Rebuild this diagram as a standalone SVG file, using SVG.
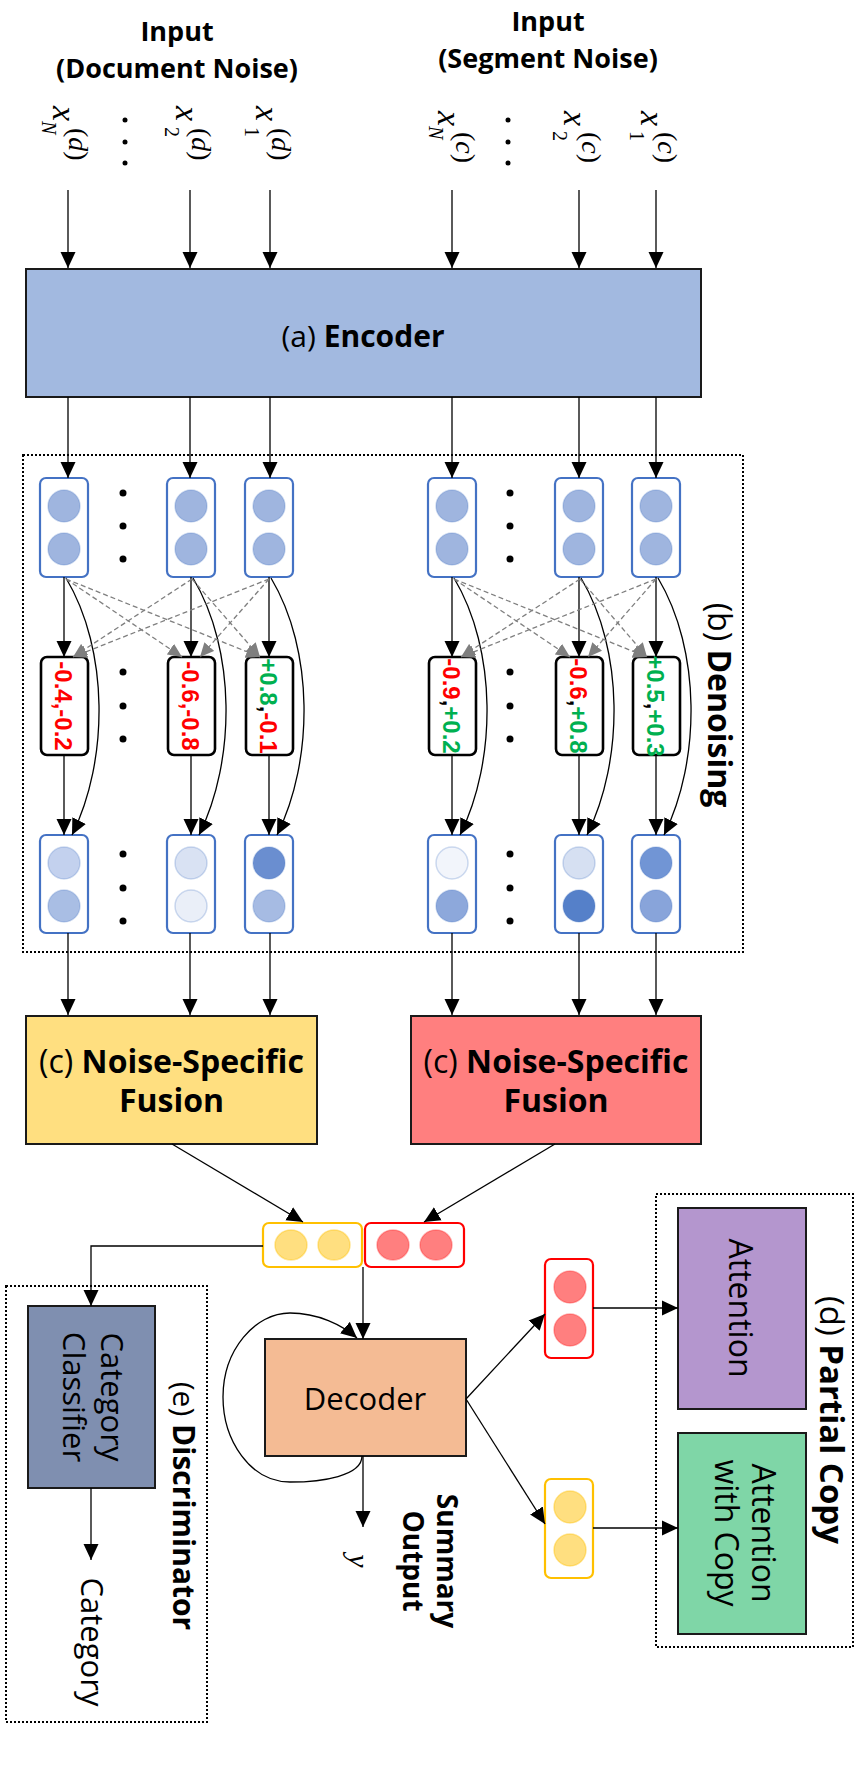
<svg xmlns="http://www.w3.org/2000/svg" width="857" height="1773" viewBox="0 0 857 1773">
<defs>
<style>
.s{font-family:"Open Sans","Liberation Sans",sans-serif;fill:#000}
.b{font-weight:bold}
.n{font-family:"Liberation Sans",Arial,sans-serif;font-weight:bold;font-size:24px}
.m{font-family:"Liberation Serif","DejaVu Serif",serif;font-style:italic;fill:#000}
.mu{font-family:"Liberation Serif","DejaVu Serif",serif;fill:#000}
.red{fill:#FF0000}
.grn{fill:#00B050}
.blk{fill:#000}
.ln{stroke:#000;stroke-width:1.3;fill:none}
.ar{marker-end:url(#arr)}
.ds{stroke:#7F7F7F;stroke-width:1.3;fill:none;stroke-dasharray:5 3;marker-end:url(#arg)}
.dot{fill:none;stroke:#000;stroke-width:2;stroke-dasharray:2 2}
.vb{fill:#fff;stroke:#4472C4;stroke-width:2.2}
.sb{fill:#fff;stroke:#000;stroke-width:2.6}
.bx{stroke:#1a1a1a;stroke-width:2}
.c{stroke:#4472C4;stroke-opacity:.25;stroke-width:1.5}
.cy{fill:#FFDF80;stroke:#FFC000;stroke-opacity:.4;stroke-width:1.5}
.cr{fill:#FF7F7F;stroke:#FF2020;stroke-opacity:.35;stroke-width:1.5}
</style>
<marker id="arr" viewBox="0 0 16 16" refX="16" refY="8" markerWidth="16" markerHeight="16" markerUnits="userSpaceOnUse" orient="auto"><path d="M0,0.5 L16,8 L0,15.5 z" fill="#000"/></marker>
<marker id="arg" viewBox="0 0 14 14" refX="14" refY="7" markerWidth="14" markerHeight="14" markerUnits="userSpaceOnUse" orient="auto"><path d="M0,0.5 L14,7 L0,13.5 z" fill="#7F7F7F"/></marker>
</defs>
<rect width="857" height="1773" fill="#fff"/>

<!-- headings -->
<g id="input-document">
<text class="s b" x="177" y="41" font-size="27" text-anchor="middle">Input</text>
<text class="s b" x="177" y="78" font-size="27" text-anchor="middle">(Document Noise)</text>
</g>
<g id="input-segment">
<text class="s b" x="548" y="31" font-size="27" text-anchor="middle">Input</text>
<text class="s b" x="548" y="68" font-size="27" text-anchor="middle">(Segment Noise)</text>
</g>

<!-- input token labels (rotated) -->
<g id="x-labels">
<g id="xdN"><text class="m" font-size="34" transform="translate(53,106) rotate(90)">x</text><text class="m" font-size="20" transform="translate(42,121) rotate(90)">N</text><text class="mu" font-size="28" transform="translate(69,128) rotate(90)">(<tspan class="m">d</tspan>)</text></g>
<g id="xd2"><text class="m" font-size="34" transform="translate(176,106) rotate(90)">x</text><text class="mu" font-size="20" transform="translate(165,127) rotate(90)">2</text><text class="mu" font-size="28" transform="translate(192,128) rotate(90)">(<tspan class="m">d</tspan>)</text></g>
<g id="xd1"><text class="m" font-size="34" transform="translate(256,106) rotate(90)">x</text><text class="mu" font-size="20" transform="translate(245,127) rotate(90)">1</text><text class="mu" font-size="28" transform="translate(272,128) rotate(90)">(<tspan class="m">d</tspan>)</text></g>
<g id="xcN"><text class="m" font-size="34" transform="translate(438,111) rotate(90)">x</text><text class="m" font-size="20" transform="translate(429,126) rotate(90)">N</text><text class="mu" font-size="28" transform="translate(456,132) rotate(90)">(<tspan class="m">c</tspan>)</text></g>
<g id="xc2"><text class="m" font-size="34" transform="translate(564,111) rotate(90)">x</text><text class="mu" font-size="20" transform="translate(553,131) rotate(90)">2</text><text class="mu" font-size="28" transform="translate(582,132) rotate(90)">(<tspan class="m">c</tspan>)</text></g>
<g id="xc1"><text class="m" font-size="34" transform="translate(641,111) rotate(90)">x</text><text class="mu" font-size="20" transform="translate(630,131) rotate(90)">1</text><text class="mu" font-size="28" transform="translate(658,132) rotate(90)">(<tspan class="m">c</tspan>)</text></g>
<g id="x-dots">
<circle cx="125" cy="120" r="2.5"/><circle cx="125" cy="142" r="2.5"/><circle cx="125" cy="163" r="2.5"/>
<circle cx="508" cy="120" r="2.5"/><circle cx="508" cy="142" r="2.5"/><circle cx="508" cy="163" r="2.5"/>
</g>
</g>

<!-- encoder -->
<g id="encoder">
<rect class="bx" x="26" y="269" width="675" height="128" fill="#A2B9E0"/>
<text class="s" x="363" y="347" font-size="30" text-anchor="middle">(a) <tspan class="b">Encoder</tspan></text>
</g>

<!-- denoising -->
<g id="denoising">
<rect class="dot" x="23" y="455" width="720" height="497"/>
<text class="s" font-size="32" text-anchor="middle" transform="translate(708,705) rotate(90)">(b) <tspan class="b">Denoising</tspan></text>
</g>

<g id="hidden-top">
<g id="h1"><rect class="vb" x="40" y="478" width="48" height="99" rx="6"/><circle class="c" cx="64" cy="506" r="16" fill="#9FB5DF"/><circle class="c" cx="64" cy="549" r="16" fill="#9FB5DF"/></g>
<g id="h2"><rect class="vb" x="167" y="478" width="48" height="99" rx="6"/><circle class="c" cx="191" cy="506" r="16" fill="#9FB5DF"/><circle class="c" cx="191" cy="549" r="16" fill="#9FB5DF"/></g>
<g id="h3"><rect class="vb" x="245" y="478" width="48" height="99" rx="6"/><circle class="c" cx="269" cy="506" r="16" fill="#9FB5DF"/><circle class="c" cx="269" cy="549" r="16" fill="#9FB5DF"/></g>
<g id="h4"><rect class="vb" x="428" y="478" width="48" height="99" rx="6"/><circle class="c" cx="452" cy="506" r="16" fill="#9FB5DF"/><circle class="c" cx="452" cy="549" r="16" fill="#9FB5DF"/></g>
<g id="h5"><rect class="vb" x="555" y="478" width="48" height="99" rx="6"/><circle class="c" cx="579" cy="506" r="16" fill="#9FB5DF"/><circle class="c" cx="579" cy="549" r="16" fill="#9FB5DF"/></g>
<g id="h6"><rect class="vb" x="632" y="478" width="48" height="99" rx="6"/><circle class="c" cx="656" cy="506" r="16" fill="#9FB5DF"/><circle class="c" cx="656" cy="549" r="16" fill="#9FB5DF"/></g>
</g>

<g id="scores">
<g id="s1"><rect class="sb" x="41" y="657" width="47" height="98" rx="6"/><text class="n red" text-anchor="middle" transform="translate(55,706) rotate(90)">-0.4,-0.2</text></g>
<g id="s2"><rect class="sb" x="168" y="657" width="47" height="98" rx="6"/><text class="n red" text-anchor="middle" transform="translate(182,706) rotate(90)">-0.6,-0.8</text></g>
<g id="s3"><rect class="sb" x="246" y="657" width="47" height="98" rx="6"/><text class="n" text-anchor="middle" transform="translate(260,706) rotate(90)"><tspan class="grn">+0.8</tspan><tspan class="blk">,</tspan><tspan class="red">-0.1</tspan></text></g>
<g id="s4"><rect class="sb" x="429" y="657" width="47" height="98" rx="6"/><text class="n" text-anchor="middle" transform="translate(443,706) rotate(90)"><tspan class="red">-0.9</tspan><tspan class="blk">,</tspan><tspan class="grn">+0.2</tspan></text></g>
<g id="s5"><rect class="sb" x="556" y="657" width="47" height="98" rx="6"/><text class="n" text-anchor="middle" transform="translate(570,706) rotate(90)"><tspan class="red">-0.6</tspan><tspan class="blk">,</tspan><tspan class="grn">+0.8</tspan></text></g>
<g id="s6"><rect class="sb" x="633" y="657" width="47" height="98" rx="6"/><text class="n" text-anchor="middle" transform="translate(647,706) rotate(90)"><tspan class="grn">+0.5</tspan><tspan class="blk">,</tspan><tspan class="grn">+0.3</tspan></text></g>
</g>

<g id="hidden-bottom">
<g id="d1"><rect class="vb" x="40" y="835" width="48" height="98" rx="6"/><circle class="c" cx="64" cy="863" r="16" fill="#C3D1EE"/><circle class="c" cx="64" cy="906" r="16" fill="#A9BEE4"/></g>
<g id="d2"><rect class="vb" x="167" y="835" width="48" height="98" rx="6"/><circle class="c" cx="191" cy="863" r="16" fill="#D9E2F3"/><circle class="c" cx="191" cy="906" r="16" fill="#EAEFF8"/></g>
<g id="d3"><rect class="vb" x="245" y="835" width="48" height="98" rx="6"/><circle class="c" cx="269" cy="863" r="16" fill="#6A8ED0"/><circle class="c" cx="269" cy="906" r="16" fill="#A6BBE3"/></g>
<g id="d4"><rect class="vb" x="428" y="835" width="48" height="98" rx="6"/><circle class="c" cx="452" cy="863" r="16" fill="#F2F5FB"/><circle class="c" cx="452" cy="906" r="16" fill="#8DA8DB"/></g>
<g id="d5"><rect class="vb" x="555" y="835" width="48" height="98" rx="6"/><circle class="c" cx="579" cy="863" r="16" fill="#D6E0F2"/><circle class="c" cx="579" cy="906" r="16" fill="#5580C9"/></g>
<g id="d6"><rect class="vb" x="632" y="835" width="48" height="98" rx="6"/><circle class="c" cx="656" cy="863" r="16" fill="#7195D5"/><circle class="c" cx="656" cy="906" r="16" fill="#88A4DA"/></g>
</g>

<g id="denoise-dots">
<circle cx="123" cy="493" r="3.5"/><circle cx="123" cy="526" r="3.5"/><circle cx="123" cy="559" r="3.5"/>
<circle cx="123" cy="672" r="3.5"/><circle cx="123" cy="706" r="3.5"/><circle cx="123" cy="739" r="3.5"/>
<circle cx="123" cy="854" r="3.5"/><circle cx="123" cy="888" r="3.5"/><circle cx="123" cy="921" r="3.5"/>
<circle cx="510" cy="493" r="3.5"/><circle cx="510" cy="526" r="3.5"/><circle cx="510" cy="559" r="3.5"/>
<circle cx="510" cy="672" r="3.5"/><circle cx="510" cy="706" r="3.5"/><circle cx="510" cy="739" r="3.5"/>
<circle cx="510" cy="854" r="3.5"/><circle cx="510" cy="888" r="3.5"/><circle cx="510" cy="921" r="3.5"/>
</g>

<!-- fusion -->
<g id="fusion-document">
<rect class="bx" x="26" y="1016" width="291" height="128" fill="#FFDF80"/>
<text class="s" x="171.5" y="1073" font-size="32" text-anchor="middle">(c) <tspan class="b">Noise-Specific</tspan></text>
<text class="s b" x="171.5" y="1112" font-size="32" text-anchor="middle">Fusion</text>
</g>
<g id="fusion-segment">
<rect class="bx" x="411" y="1016" width="290" height="128" fill="#FF7F7F"/>
<text class="s" x="556" y="1073" font-size="32" text-anchor="middle">(c) <tspan class="b">Noise-Specific</tspan></text>
<text class="s b" x="556" y="1112" font-size="32" text-anchor="middle">Fusion</text>
</g>

<g id="fused-vector">
<rect x="263" y="1223" width="99" height="44" rx="6" fill="#fff" stroke="#FFC000" stroke-width="2.2"/>
<ellipse class="cy" cx="291" cy="1245" rx="16" ry="15"/><ellipse class="cy" cx="334" cy="1245" rx="16" ry="15"/>
<rect x="365" y="1223" width="99" height="44" rx="6" fill="#fff" stroke="#FF0000" stroke-width="2.2"/>
<ellipse class="cr" cx="393" cy="1245" rx="16" ry="15"/><ellipse class="cr" cx="436" cy="1245" rx="16" ry="15"/>
</g>

<g id="decoder">
<rect class="bx" x="265" y="1339" width="201" height="117" fill="#F4BB94"/>
<text class="s" x="365" y="1410" font-size="31" text-anchor="middle">Decoder</text>
</g>

<g id="summary-output">
<text class="m" font-size="30" text-anchor="middle" transform="translate(349,1561) rotate(90)">y</text>
<text class="s b" font-size="28" text-anchor="middle" transform="translate(437,1561) rotate(90)">Summary</text>
<text class="s b" font-size="28" text-anchor="middle" transform="translate(403,1561) rotate(90)">Output</text>
</g>

<g id="discriminator">
<rect class="dot" x="6" y="1286" width="201" height="436"/>
<text class="s" font-size="30" text-anchor="middle" transform="translate(173,1506) rotate(90)">(e) <tspan class="b">Discriminator</tspan></text>
</g>
<g id="category-classifier">
<rect class="bx" x="28" y="1306" width="127" height="182" fill="#7F8FB0"/>
<text class="s" font-size="31" text-anchor="middle" transform="translate(101,1397) rotate(90)">Category</text>
<text class="s" font-size="31" text-anchor="middle" transform="translate(63,1397) rotate(90)">Classifier</text>
</g>
<g id="category-out">
<text class="s" font-size="31" text-anchor="middle" transform="translate(81,1642) rotate(90)">Category</text>
</g>

<g id="vec-red">
<rect x="545" y="1259" width="48" height="99" rx="6" fill="#fff" stroke="#FF0000" stroke-width="2.2"/>
<circle class="cr" cx="570" cy="1287" r="16"/><circle class="cr" cx="570" cy="1330" r="16"/>
</g>
<g id="vec-yellow">
<rect x="545" y="1479" width="48" height="99" rx="6" fill="#fff" stroke="#FFC000" stroke-width="2.2"/>
<circle class="cy" cx="570" cy="1507" r="16"/><circle class="cy" cx="570" cy="1550" r="16"/>
</g>

<g id="partial-copy">
<rect class="dot" x="656" y="1194" width="197" height="453"/>
<text class="s" font-size="33" text-anchor="middle" transform="translate(820,1420) rotate(90)">(d) <tspan class="b">Partial Copy</tspan></text>
</g>
<g id="attention">
<rect class="bx" x="678" y="1208" width="128" height="201" fill="#B496CE"/>
<text class="s" font-size="32" text-anchor="middle" transform="translate(729,1308) rotate(90)">Attention</text>
</g>
<g id="attention-copy">
<rect class="bx" x="678" y="1433" width="128" height="201" fill="#7FD6A7"/>
<text class="s" font-size="32" text-anchor="middle" transform="translate(752,1533) rotate(90)">Attention</text>
<text class="s" font-size="32" text-anchor="middle" transform="translate(715,1533) rotate(90)">with Copy</text>
</g>

<!-- connectors -->
<g id="connectors">
<g class="ln ar">
<path d="M68,190 V268"/><path d="M190,190 V268"/><path d="M270,190 V268"/>
<path d="M452,190 V268"/><path d="M579,190 V268"/><path d="M656,190 V268"/>
<path d="M68,397 V478"/><path d="M190,397 V478"/><path d="M270,397 V478"/>
<path d="M452,397 V478"/><path d="M579,397 V478"/><path d="M656,397 V478"/>
<path d="M64,577 V657"/><path d="M191,577 V657"/><path d="M269,577 V657"/>
<path d="M452,577 V657"/><path d="M579,577 V657"/><path d="M656,577 V657"/>
<path d="M64,755 V835"/><path d="M191,755 V835"/><path d="M269,755 V835"/>
<path d="M452,755 V835"/><path d="M579,755 V835"/><path d="M656,755 V835"/>
<path d="M66,578 C109,650 109,760 72,835"/><path d="M193,578 C236,650 236,760 199,835"/><path d="M271,578 C314,650 314,760 277,835"/>
<path d="M454,578 C497,650 497,760 460,835"/><path d="M581,578 C624,650 624,760 587,835"/><path d="M658,578 C701,650 701,760 664,835"/>
<path d="M68,933 V1015"/><path d="M190,933 V1015"/><path d="M270,933 V1015"/>
<path d="M452,933 V1015"/><path d="M579,933 V1015"/><path d="M656,933 V1015"/>
<path d="M172,1144 L303,1222"/><path d="M555,1144 L424,1222"/>
<path d="M263,1246 H91 V1306"/>
<path d="M363,1267 V1339"/>
<path d="M363,1456 V1527"/>
<path d="M362,1456 C362,1476 322,1482 290,1482 C250,1482 223,1440 223,1397 C223,1350 255,1313 290,1313 C318,1313 342,1325 357,1338"/>
<path d="M91,1488 V1560"/>
<path d="M466,1399 L545,1314"/><path d="M466,1399 L545,1524"/>
<path d="M593,1308 H678"/><path d="M593,1528 H678"/>
</g>
<g id="dashed">
<path class="ds" d="M66,579 L182,657"/><path class="ds" d="M66,579 L260,657"/>
<path class="ds" d="M192,579 L73,657"/><path class="ds" d="M192,579 L260,657"/>
<path class="ds" d="M269,579 L73,657"/><path class="ds" d="M269,579 L200,657"/>
<path class="ds" d="M454,579 L570,657"/><path class="ds" d="M454,579 L647,657"/>
<path class="ds" d="M580,579 L461,657"/><path class="ds" d="M580,579 L647,657"/>
<path class="ds" d="M656,579 L461,657"/><path class="ds" d="M656,579 L588,657"/>
</g>
</g>
</svg>
